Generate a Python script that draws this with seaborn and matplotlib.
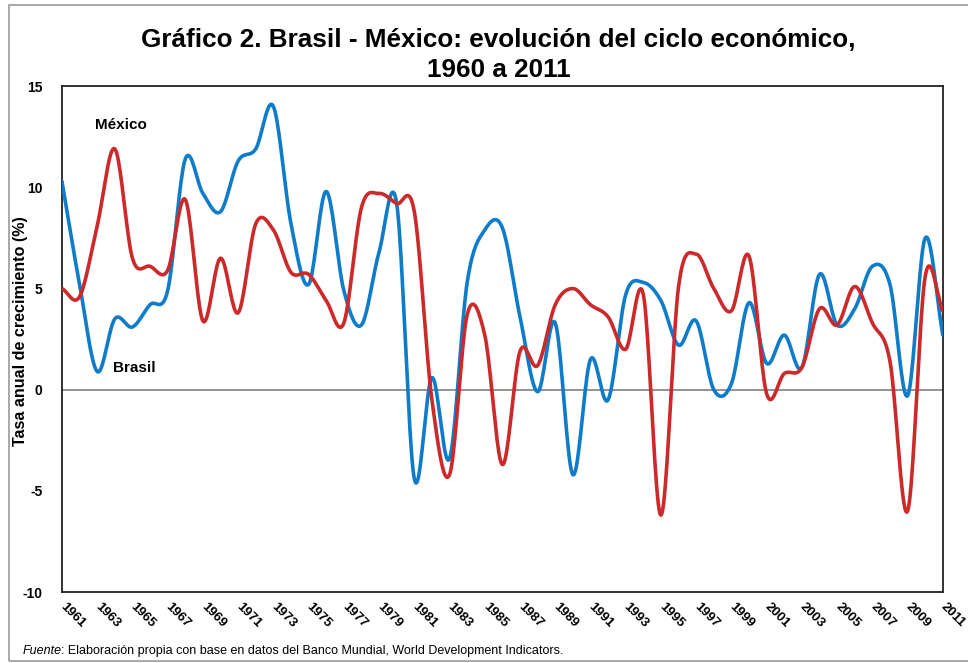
import numpy as np
import pandas as pd
import matplotlib.pyplot as plt
from matplotlib.patches import Rectangle
import seaborn as sns

# Data: annual GDP growth (%)
years = list(range(1961, 2012))
brasil = [10.3, 5.2, 0.9, 3.5, 3.1, 4.2, 4.9, 11.4, 9.7, 8.8,
          11.3, 11.9, 14.0, 8.2, 5.2, 9.8, 4.9, 3.2, 6.8, 9.2,
          -4.4, 0.6, -3.4, 5.3, 7.9, 8.0, 3.6, -0.1, 3.3, -4.2,
          1.5, -0.5, 4.7, 5.3, 4.4, 2.2, 3.4, 0.0, 0.3, 4.3,
          1.3, 2.7, 1.1, 5.7, 3.2, 4.0, 6.1, 5.2, -0.3, 7.5, 2.7]
mexico = [5.0, 4.6, 8.1, 11.9, 6.5, 6.1, 5.9, 9.4, 3.4, 6.5,
          3.8, 8.2, 7.9, 5.8, 5.7, 4.4, 3.3, 9.0, 9.7, 9.2,
          8.8, -0.5, -4.2, 3.7, 2.7, -3.7, 1.9, 1.2, 4.2, 5.0,
          4.2, 3.6, 2.0, 4.7, -6.2, 5.1, 6.7, 5.0, 3.9, 6.6,
          -0.2, 0.8, 1.1, 4.0, 3.2, 5.1, 3.3, 1.4, -6.0, 5.6, 3.9]
tick_years = list(range(1961, 2012, 2))


def smooth(x, y, n=20):
    # Catmull-Rom curve through the points (like Excel's smoothed line)
    x = np.asarray(x, float)
    y = np.asarray(y, float)
    px = np.concatenate([[2 * x[0] - x[1]], x, [2 * x[-1] - x[-2]]])
    py = np.concatenate([[2 * y[0] - y[1]], y, [2 * y[-1] - y[-2]]])
    xs, ys = [], []
    t = np.linspace(0, 1, n, endpoint=False)
    for i in range(1, len(px) - 2):
        for p, out in ((px, xs), (py, ys)):
            p0, p1, p2, p3 = p[i - 1], p[i], p[i + 1], p[i + 2]
            out.extend(0.5 * ((2 * p1) + (-p0 + p2) * t
                              + (2 * p0 - 5 * p1 + 4 * p2 - p3) * t ** 2
                              + (-p0 + 3 * p1 - 3 * p2 + p3) * t ** 3))
    xs.append(x[-1])
    ys.append(y[-1])
    return np.array(xs), np.array(ys)


sns.set_style("white")
plt.rcParams['font.family'] = ['Liberation Sans', 'DejaVu Sans']
for k in ("text.color", "axes.labelcolor", "xtick.color", "ytick.color"):
    plt.rcParams[k] = "black"

fig = plt.figure(figsize=(9.68, 6.63), dpi=100)
ax = fig.add_axes([0.064, 0.107, 0.910, 0.763])

frames = []
for name, vals in (("Brasil", brasil), ("México", mexico)):
    sx, sy = smooth(years, vals)
    frames.append(pd.DataFrame({"Año": sx, "Crecimiento": sy, "País": name}))
df = pd.concat(frames, ignore_index=True)

ax.axhline(0, color="#808080", linewidth=1.2, zorder=1)
sns.lineplot(data=df, x="Año", y="Crecimiento", hue="País", sort=False,
             palette={"Brasil": "#0F7CC9", "México": "#CC2A2A"},
             linewidth=2.6, legend=False, ax=ax, zorder=3)

ax.set_xlim(1961, 2011)
ax.set_ylim(-10, 15)
ax.set_yticks([-10, -5, 0, 5, 10, 15])
ax.set_yticklabels([str(v) for v in [-10, -5, 0, 5, 10, 15]],
                   fontsize=10, fontweight="bold")
ax.set_xticks(tick_years)
ax.set_xticklabels([str(v) for v in tick_years], fontsize=9.5,
                   fontweight="bold", rotation=-45, ha="left", va="center",
                   rotation_mode="anchor")
ax.tick_params(axis="x", length=0, pad=9)
ax.tick_params(axis="y", length=0, pad=14)
ax.set_xlabel("")
ax.set_ylabel("Tasa anual de crecimiento (%)", fontsize=11.6,
              fontweight="bold")
ax.yaxis.set_label_coords(-0.039, 0.516)
for s in ax.spines.values():
    s.set_color("#222222")
    s.set_linewidth(1.3)

ax.text(1962.9, 13.1, "México", fontsize=11, fontweight="bold",
        va="center", ha="left")
ax.text(1963.9, 1.05, "Brasil", fontsize=11, fontweight="bold",
        va="center", ha="left")

fig.text(0.515, 0.917, "Gráfico 2. Brasil - México: evolución del ciclo económico,\n1960 a 2011",
         ha="center", va="center", fontsize=18.8, fontweight="bold",
         linespacing=1.3)

# footer: italic "Fuente" followed by the rest of the note
fuente = fig.text(0.023, 0.018, "Fuente", fontsize=9, style="italic",
                  ha="left", va="center")
fig.canvas.draw()
bb = fuente.get_window_extent()
fig.text(bb.x1 / fig.bbox.width, 0.018,
         ": Elaboración propia con base en datos del Banco Mundial, World Development Indicators.",
         fontsize=9, ha="left", va="center")

fig.patches.append(Rectangle((0.009, 0.003), 1.2, 0.989,
                             transform=fig.transFigure, fill=False,
                             edgecolor="#999999", linewidth=1.2))

fig.savefig("out.png", dpi=100)
